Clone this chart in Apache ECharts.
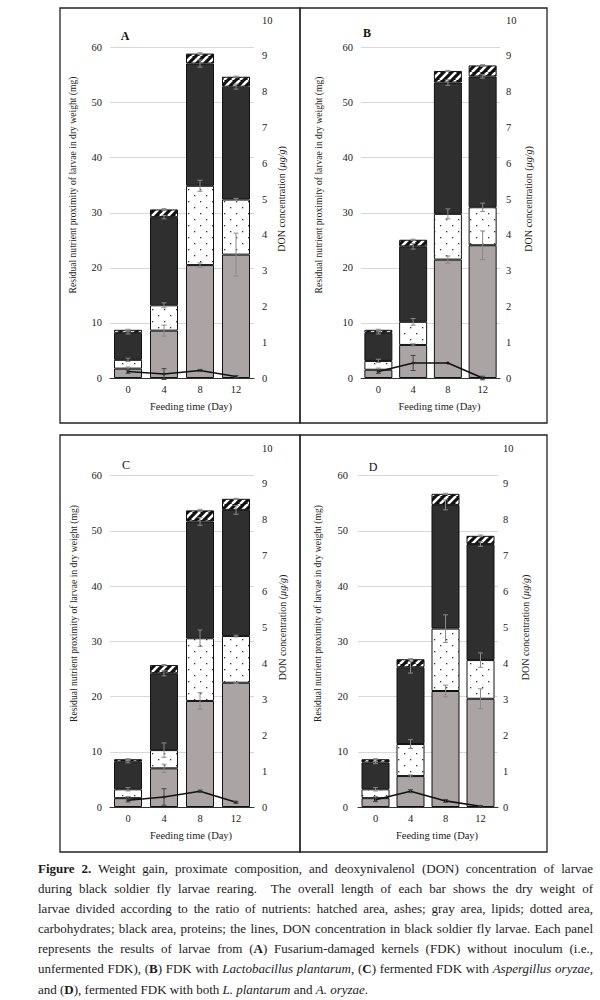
<!DOCTYPE html>
<html><head><meta charset="utf-8">
<script src="https://cdn.jsdelivr.net/npm/echarts@6/dist/echarts.min.js"></script>
<style>
html,body{margin:0;padding:0;background:#fff;}
#chart{position:absolute;left:0;top:0;width:600px;height:860px;}
#cap{position:absolute;left:38px;top:859px;width:555px;font-family:'Liberation Serif',serif;font-size:13px;line-height:20.1px;color:#1a1a1a;}
#cap div{white-space:nowrap;text-align:justify;text-align-last:justify;}
#cap div.last{text-align-last:left;}
</style></head><body>
<div id="chart"></div>
<div id="cap">
<div><b>Figure 2.</b> Weight gain, proximate composition, and deoxynivalenol (DON) concentration of larvae</div>
<div>during black soldier fly larvae rearing.&nbsp; The overall length of each bar shows the dry weight of</div>
<div>larvae divided according to the ratio of nutrients: hatched area, ashes; gray area, lipids; dotted area,</div>
<div>carbohydrates; black area, proteins; the lines, DON concentration in black soldier fly larvae. Each panel</div>
<div>represents the results of larvae from (<b>A</b>) Fusarium-damaged kernels (FDK) without inoculum (i.e.,</div>
<div>unfermented FDK), (<b>B</b>) FDK with <i>Lactobacillus plantarum</i>, (<b>C</b>) fermented FDK with <i>Aspergillus oryzae</i>,</div>
<div class="last">and (<b>D</b>), fermented FDK with both <i>L. plantarum</i> and <i>A. oryzae</i>.</div>
</div>
<script>
// ---- data ----
const days = ['0', '4', '8', '12'];
const panelLetters = ['A', 'B', 'C', 'D'];

const lipidsA = [1.7, 8.6, 20.5, 22.4];
const carbsA = [1.6, 4.6, 14.4, 10.0];
const proteinsA = [4.9, 16.0, 22.2, 20.5];
const ashA = [0.55, 1.4, 1.8, 1.8];
const lipidsErrA = [0.3, 1.0, 0.4, 3.9];
const carbsErrA = [0.3, 0.45, 1.0, 0.2];
const proteinsErrA = [0.2, 0.3, 0.65, 0.45];
const ashErrA = [0.1, 0.15, 0.15, 0.1];
const donA = [0.18, 0.11, 0.21, 0.04];
const donErrA = [0.05, 0.15, 0.03, 0.03];

const lipidsB = [1.5, 6.0, 21.5, 24.1];
const carbsB = [1.6, 4.2, 8.3, 6.9];
const proteinsB = [5.1, 13.7, 23.85, 23.75];
const ashB = [0.55, 1.2, 2.1, 2.0];
const lipidsErrB = [0.3, 0.2, 0.65, 2.6];
const carbsErrB = [0.3, 0.6, 0.9, 0.75];
const proteinsErrB = [0.2, 0.5, 0.5, 0.3];
const ashErrB = [0.1, 0.1, 0.1, 0.15];
const donB = [0.18, 0.42, 0.42, 0.0];
const donErrB = [0.05, 0.21, 0.0, 0.05];

const lipidsC = [1.6, 7.0, 19.2, 22.5];
const carbsC = [1.6, 3.3, 11.35, 8.45];
const proteinsC = [5.0, 13.9, 21.15, 22.85];
const ashC = [0.45, 1.5, 2.0, 2.0];
const lipidsErrC = [0.3, 0.75, 1.5, 0.1];
const carbsErrC = [0.3, 1.3, 1.5, 0.15];
const proteinsErrC = [0.2, 0.45, 0.7, 0.8];
const ashErrC = [0.1, 0.1, 0.2, 0.1];
const donC = [0.19, 0.28, 0.44, 0.13];
const donErrC = [0.05, 0.23, 0.03, 0.03];

const lipidsD = [1.6, 5.6, 21.0, 19.6];
const carbsD = [1.6, 5.8, 11.3, 7.0];
const proteinsD = [4.85, 13.9, 22.4, 21.0];
const ashD = [0.6, 1.45, 2.0, 1.5];
const lipidsErrD = [0.3, 0.2, 1.05, 1.8];
const carbsErrD = [0.3, 0.8, 2.5, 1.3];
const proteinsErrD = [0.2, 1.05, 0.9, 0.4];
const ashErrD = [0.1, 0.1, 0.1, 0.15];
const donD = [0.2, 0.44, 0.17, 0.02];
const donErrD = [0.05, 0.04, 0.04, 0.02];

const leftName = 'Residual nutrient proximity of larvae in dry weight (mg)';
const rightName = 'DON concentration ({i|μg/g})';
const xName = 'Feeding time (Day)';

// ---- assembly ----
const panels = [
  {seg: [lipidsA, carbsA, proteinsA, ashA], err: [lipidsErrA, carbsErrA, proteinsErrA, ashErrA], don: donA, donErr: donErrA},
  {seg: [lipidsB, carbsB, proteinsB, ashB], err: [lipidsErrB, carbsErrB, proteinsErrB, ashErrB], don: donB, donErr: donErrB},
  {seg: [lipidsC, carbsC, proteinsC, ashC], err: [lipidsErrC, carbsErrC, proteinsErrC, ashErrC], don: donC, donErr: donErrC},
  {seg: [lipidsD, carbsD, proteinsD, ashD], err: [lipidsErrD, carbsErrD, proteinsErrD, ashErrD], don: donD, donErr: donErrD}
];

const FONT = '"Liberation Serif", "Times New Roman", serif';

function makeHatch() {
  const c = document.createElement('canvas'); c.width = 8; c.height = 8;
  const g = c.getContext('2d');
  g.fillStyle = '#111'; g.fillRect(0, 0, 8, 8);
  g.strokeStyle = '#fff'; g.lineWidth = 2.6;
  g.beginPath();
  for (let k = -1; k <= 1; k++) { g.moveTo(k * 8, 8); g.lineTo(k * 8 + 8, 0); }
  g.stroke();
  return c;
}
function makeDots() {
  const c = document.createElement('canvas'); c.width = 12; c.height = 12;
  const g = c.getContext('2d');
  g.fillStyle = '#fff'; g.fillRect(0, 0, 12, 12);
  g.fillStyle = '#333';
  g.fillRect(2, 3, 1.3, 1.3);
  g.fillRect(8, 9, 1.3, 1.3);
  return c;
}
const segColors = [
  '#aaa4a4',
  {image: makeDots(), repeat: 'repeat'},
  '#2f2f2f',
  {image: makeHatch(), repeat: 'repeat'}
];

const grids = [
  {left: 110, top: 20, width: 144, height: 358},
  {left: 361, top: 20, width: 139, height: 358},
  {left: 110, top: 448, width: 144, height: 359},
  {left: 358, top: 448, width: 140, height: 359}
];
const leftGaps = [33, 38, 32, 36];
const rightGaps = [21, 23, 23, 22];
const leftLabelMargins = [8, 8, 8, 10];
const rightLabelMargins = [8, 6, 8, 5];

function errRender(color) {
  return function (params, api) {
    const x = api.value(0), y = api.value(1), e = api.value(2);
    if (!(e > 0)) return null;
    const lo = api.coord([x, y - e]), hi = api.coord([x, y + e]);
    const w = 2.5;
    const st = {stroke: color, lineWidth: 1};
    return {type: 'group', children: [
      {type: 'line', shape: {x1: lo[0], y1: lo[1], x2: hi[0], y2: hi[1]}, style: st},
      {type: 'line', shape: {x1: lo[0] - w, y1: lo[1], x2: lo[0] + w, y2: lo[1]}, style: st},
      {type: 'line', shape: {x1: hi[0] - w, y1: hi[1], x2: hi[0] + w, y2: hi[1]}, style: st}
    ]};
  };
}

const xAxes = [], yAxes = [], series = [];
panels.forEach((p, i) => {
  xAxes.push({
    gridIndex: i, type: 'category', data: days,
    axisLine: {lineStyle: {color: '#333', width: 1}},
    axisTick: {show: false},
    axisLabel: {fontFamily: FONT, fontSize: 10.5, color: '#222', margin: 6},
    name: xName, nameLocation: 'middle', nameGap: 23,
    nameTextStyle: {fontFamily: FONT, fontSize: 10.5, color: '#222', padding: [0, 0, 0, 18]}
  });
  yAxes.push({
    gridIndex: i, type: 'value', position: 'left', min: 0, max: 65, interval: 10,
    axisLine: {show: false}, axisTick: {show: false},
    axisLabel: {fontFamily: FONT, fontSize: 10.5, color: '#222', margin: leftLabelMargins[i], showMaxLabel: false},
    splitLine: {show: true, showMaxLine: false, lineStyle: {color: '#d8d8d8', width: 1}},
    name: leftName, nameLocation: 'middle', nameRotate: 90, nameGap: leftGaps[i],
    nameTextStyle: {fontFamily: FONT, fontSize: 9.6, color: '#222', padding: [0, 0, 0, 28]}
  });
  yAxes.push({
    gridIndex: i, type: 'value', position: 'right', min: 0, max: 10, interval: 1,
    axisLine: {show: false}, axisTick: {show: false},
    axisLabel: {fontFamily: FONT, fontSize: 10.5, color: '#222', margin: rightLabelMargins[i]},
    splitLine: {show: false},
    name: rightName, nameLocation: 'middle', nameRotate: 90, nameGap: rightGaps[i],
    nameTextStyle: {fontFamily: FONT, fontSize: 10, color: '#222',
      rich: {i: {fontFamily: FONT, fontSize: 10, fontStyle: 'italic', color: '#222'}}}
  });
  p.seg.forEach((vals, k) => {
    series.push({
      type: 'bar', xAxisIndex: i, yAxisIndex: 2 * i, stack: 'p' + i, barWidth: 28,
      data: vals, silent: true,
      itemStyle: {color: segColors[k], borderColor: '#111', borderWidth: 1}
    });
  });
  // error bars at the top of each stacked segment
  const errData = [];
  const cum = [0, 0, 0, 0];
  p.seg.forEach((vals, k) => {
    vals.forEach((v, j) => {
      cum[j] += v;
      errData.push([j, cum[j], p.err[k][j]]);
    });
  });
  series.push({
    type: 'custom', xAxisIndex: i, yAxisIndex: 2 * i, data: errData, silent: true, z: 3,
    encode: {x: 0, y: 1}, renderItem: errRender('#8a8a8a')
  });
  series.push({
    type: 'line', xAxisIndex: i, yAxisIndex: 2 * i + 1, data: p.don, silent: true, z: 4,
    symbol: 'circle', symbolSize: 3, showSymbol: true,
    lineStyle: {color: '#111', width: 1.6}, itemStyle: {color: '#111'}
  });
  series.push({
    type: 'custom', xAxisIndex: i, yAxisIndex: 2 * i + 1, silent: true, z: 5,
    data: p.don.map((v, j) => [j, v, p.donErr[j]]),
    encode: {x: 0, y: 1}, renderItem: errRender('#444')
  });
});

const labelPos = [[125, 36, 'bold'], [367, 33, 'bold'], [126, 465, 'normal'], [373, 467, 'normal']];
const graphics = [
  {type: 'rect', shape: {x: 60, y: 8, width: 240, height: 415}, style: {fill: 'none', stroke: '#222', lineWidth: 1.3}, silent: true},
  {type: 'rect', shape: {x: 300, y: 8, width: 247, height: 415}, style: {fill: 'none', stroke: '#222', lineWidth: 1.3}, silent: true},
  {type: 'rect', shape: {x: 60, y: 435, width: 240, height: 417}, style: {fill: 'none', stroke: '#222', lineWidth: 1.3}, silent: true},
  {type: 'rect', shape: {x: 300, y: 435, width: 247, height: 417}, style: {fill: 'none', stroke: '#222', lineWidth: 1.3}, silent: true}
];
panelLetters.forEach((t, i) => {
  graphics.push({type: 'text', x: labelPos[i][0], y: labelPos[i][1], silent: true,
    style: {text: t, fontFamily: FONT, fontSize: 12, fontWeight: labelPos[i][2], fill: '#111', align: 'center', verticalAlign: 'middle'}});
});

const chart = echarts.init(document.getElementById('chart'), null, {renderer: 'svg'});
chart.setOption({
  animation: false,
  backgroundColor: '#fff',
  grid: grids,
  xAxis: xAxes,
  yAxis: yAxes,
  series: series,
  graphic: graphics
});
</script>
</body></html>
